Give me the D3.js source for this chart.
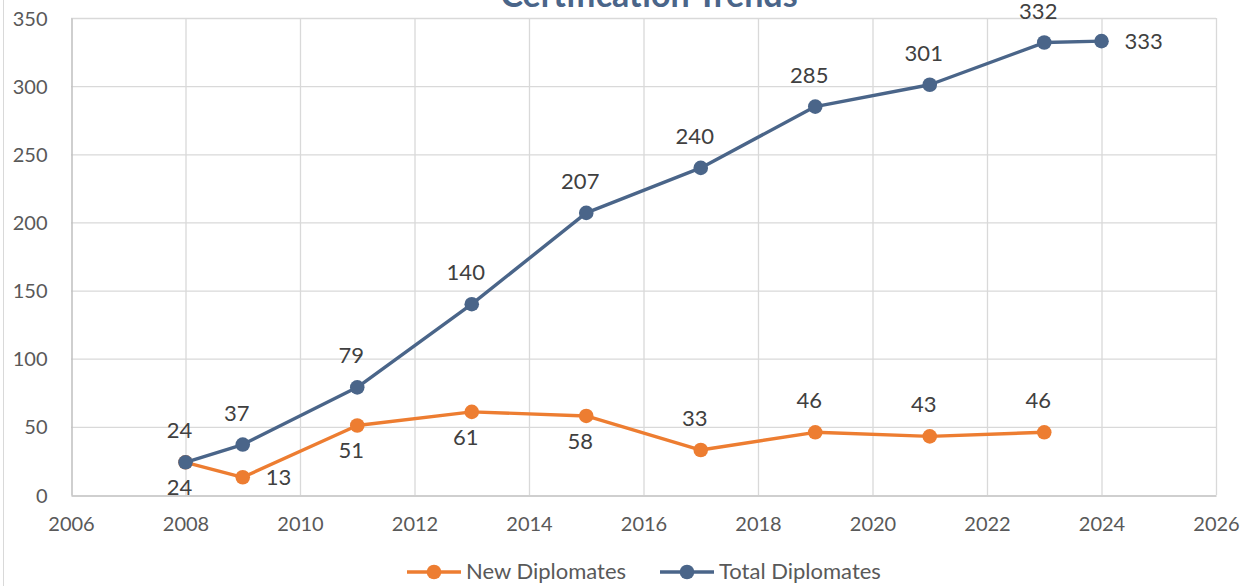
<!DOCTYPE html>
<html>
<head>
<meta charset="utf-8">
<script src="https://cdn.jsdelivr.net/npm/d3@7"></script>
<style>
  html, body { margin: 0; padding: 0; background: #fff; }
  svg { display: block; font-family: Lato, "Open Sans", sans-serif; }
</style>
</head>
<body>
<svg id="chart" width="1249" height="586"></svg>
<script>
// Certification data
const newYears = [2008, 2009, 2011, 2013, 2015, 2017, 2019, 2021, 2023];
const newValues = [24, 13, 51, 61, 58, 33, 46, 43, 46];
const newLabelPos = ["below", "right", "below", "below", "below", "above", "above", "above", "above"];

const totalYears = [2008, 2009, 2011, 2013, 2015, 2017, 2019, 2021, 2023, 2024];
const totalValues = [24, 37, 79, 140, 207, 240, 285, 301, 332, 333];
const totalLabelPos = ["above", "above", "above", "above", "above", "above", "above", "above", "above", "right"];

const xTicks = [2006, 2008, 2010, 2012, 2014, 2016, 2018, 2020, 2022, 2024, 2026];
const yTicks = [0, 50, 100, 150, 200, 250, 300, 350];

const seriesNames = ["New Diplomates", "Total Diplomates"];
const seriesColors = ["#ED7D31", "#4A6589"];

const svg = d3.select("#chart");
const W = 1249, H = 586;
const plot = { left: 71, right: 1216, top: 18, bottom: 495 };

const x = d3.scaleLinear().domain([2006, 2026]).range([plot.left, plot.right]);
const y = d3.scaleLinear().domain([0, 350]).range([plot.bottom, plot.top]);

// outer chart border
svg.append("rect").attr("x", 3.5).attr("y", -2).attr("width", W + 5).attr("height", H + 5)
  .attr("fill", "#fff").attr("stroke", "#d9d9d9");

// title
svg.append("text").attr("x", 649).attr("y", 7).attr("text-anchor", "middle")
  .attr("font-size", 34).attr("font-weight", "bold").attr("fill", "#4A6589")
  .text("Certification Trends");

// gridlines
const grid = svg.append("g");
grid.selectAll("line.h").data(yTicks.filter(d => d > 0)).join("line")
  .attr("x1", plot.left).attr("x2", plot.right)
  .attr("y1", d => y(d) + 0.5).attr("y2", d => y(d) + 0.5)
  .attr("stroke", "#d9d9d9").attr("stroke-width", 1.3);
grid.selectAll("line.v").data(xTicks.filter(d => d > 2006)).join("line")
  .attr("y1", plot.top).attr("y2", plot.bottom)
  .attr("x1", d => x(d) + 0.5).attr("x2", d => x(d) + 0.5)
  .attr("stroke", "#d9d9d9").attr("stroke-width", 1.3);

// axes
const xAxis = d3.axisBottom(x).tickValues(xTicks).tickFormat(d3.format("d")).tickSize(0).tickPadding(21);
const yAxis = d3.axisLeft(y).tickValues(yTicks).tickSize(0).tickPadding(24);

const gx = svg.append("g").attr("transform", `translate(0,${plot.bottom + 0.5})`).call(xAxis);
const gy = svg.append("g").attr("transform", `translate(${plot.left + 0.5},0)`).call(yAxis);
[gx, gy].forEach(g => {
  g.select(".domain").attr("stroke", "#bfbfbf").attr("stroke-width", 1.5);
  g.selectAll("text").attr("font-size", 20).attr("fill", "#595959")
    .attr("font-family", "Lato, 'Open Sans', sans-serif");
});
gy.selectAll("text").attr("dy", "0.35em");

// series
const series = [
  { name: seriesNames[0], color: seriesColors[0], pts: newYears.map((d, i) => ({ yr: d, v: newValues[i], pos: newLabelPos[i] })) },
  { name: seriesNames[1], color: seriesColors[1], pts: totalYears.map((d, i) => ({ yr: d, v: totalValues[i], pos: totalLabelPos[i] })) }
];

const line = d3.line().x(d => x(d.yr)).y(d => y(d.v));

series.forEach(s => {
  const g = svg.append("g");
  g.append("path").datum(s.pts).attr("d", line)
    .attr("fill", "none").attr("stroke", s.color).attr("stroke-width", 3.4)
    .attr("stroke-linejoin", "round");
  g.selectAll("circle").data(s.pts).join("circle")
    .attr("cx", d => x(d.yr)).attr("cy", d => y(d.v)).attr("r", 7.3)
    .attr("fill", s.color);
});

// data labels
series.forEach(s => {
  svg.append("g").selectAll("text").data(s.pts).join("text")
    .attr("x", d => d.pos === "right" ? x(d.yr) + 23 : x(d.yr) - 6)
    .attr("y", d => d.pos === "above" ? y(d.v) - 24 : d.pos === "below" ? y(d.v) + 33 : y(d.v) + 8)
    .attr("text-anchor", d => d.pos === "right" ? "start" : "middle")
    .attr("font-size", 22).attr("fill", "#404040")
    .text(d => d.v);
});

// legend
const legend = svg.append("g");
const legendItems = [
  { name: seriesNames[0], color: seriesColors[0], x0: 407 },
  { name: seriesNames[1], color: seriesColors[1], x0: 660 }
];
legendItems.forEach(it => {
  legend.append("line").attr("x1", it.x0).attr("x2", it.x0 + 54)
    .attr("y1", 572).attr("y2", 572).attr("stroke", it.color).attr("stroke-width", 3.4);
  legend.append("circle").attr("cx", it.x0 + 27).attr("cy", 572).attr("r", 7.3).attr("fill", it.color);
  legend.append("text").attr("x", it.x0 + 59).attr("y", 579)
    .attr("font-size", 22).attr("fill", "#595959").text(it.name);
});
</script>
</body>
</html>
